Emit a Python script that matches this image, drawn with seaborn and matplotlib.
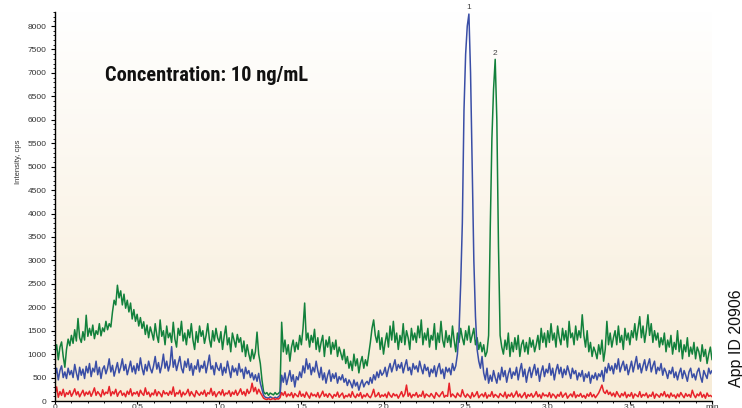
import numpy as np
import pandas as pd
import matplotlib
matplotlib.use("Agg")
import matplotlib.pyplot as plt
from matplotlib.ticker import MultipleLocator, FixedLocator
import seaborn as sns

# ---------------- data (cps, sampled every 0.01 min from 0 to 4.0) ----------------
time_step = 0.01
green_cps = [
    1050, 1200, 880, 1150, 1260, 950, 720, 1100, 1320, 1180,
    1400, 1230, 1520, 1280, 1760, 1350, 1250, 1480, 1300, 1830,
    1380, 1550, 1400, 1620, 1330, 1500, 1420, 1650, 1390, 1560,
    1480, 1700, 1520, 1650, 1580, 1900, 2150, 2050, 2470, 2200,
    2350, 2050, 2280, 1980, 2150, 1900, 2090, 1750, 1950, 1700,
    1850, 1600, 1780, 1550, 1690, 1420, 1620, 1350, 1580, 1450,
    1300, 1650, 1400, 1250, 1730, 1380, 1500, 1200, 1600, 1350,
    1450, 1250, 1680, 1320, 1150, 1550, 1400, 1700, 1280, 1450,
    1200, 1520, 1350, 1650, 1300, 1100, 1480, 1250, 1600, 1380,
    1500, 1230, 1400, 1650, 1320, 1150, 1500, 1280, 1550, 1350,
    1250, 1480, 1100, 1380, 1600, 1200, 1350, 1050, 1450, 1300,
    1150, 1420, 1250, 1350, 1050, 1280, 950, 1200, 1000, 850,
    1100, 900, 1050, 1470, 1000, 800, 450, 200, 150, 180,
    120, 170, 150, 130, 180, 140, 160, 200, 1680, 1050,
    1300, 1000, 1200, 850, 1150, 1300, 1050, 1250, 1100, 1400,
    1200, 1550, 2090, 1300, 1450, 1150, 1400, 1250, 1530, 1100,
    1350, 1050, 1250, 1400, 950, 1300, 1150, 1370, 1000, 1250,
    1100, 1300, 950, 1150, 1020, 880, 1100, 800, 950, 700,
    850, 650, 1000, 750, 900, 600, 820, 950, 700, 880,
    750, 1000, 1250, 1550, 1730, 1400, 1250, 1500, 1100, 1350,
    1000, 1250, 1450, 1150, 1600, 1300, 1700, 1250, 1450, 1100,
    1400, 1250, 1650, 1200, 1500, 1350, 1100, 1550, 1300, 1450,
    1250, 1600, 1350, 1730, 1200, 1450, 1300, 1550, 1150, 1400,
    1300, 1650, 1100, 1450, 1250, 1700, 1300, 1150, 1500, 1250,
    1400, 1150, 1600, 1300, 1050, 1450, 1250, 1550, 1350, 1200,
    1500, 1300, 1600, 1250, 1400, 1550, 1200, 1350, 1100, 1250,
    1050, 1200, 950, 1050, 1400, 3700, 5600, 6650, 7290, 6000,
    3300, 1400, 1150, 1000, 1300, 1100, 1450, 950, 1250, 1050,
    1350, 1100, 1400, 950, 1200, 1300, 1050, 1250, 1000, 1350,
    1150, 1300, 1050, 1200, 1400, 1100, 1550, 1250, 1450, 1150,
    1500, 1250, 1650, 1300, 1450, 1150, 1600, 1350, 1200, 1550,
    1300, 1500, 1150, 1700, 1350, 1450, 1200, 1600, 1300, 1500,
    1350, 1840, 1400, 1150, 1500, 1050, 1250, 950, 1150, 1050,
    900, 1200, 1000, 1300, 850, 1100, 1700, 1200, 1450, 1150,
    1350, 1500, 1200, 1600, 1250, 1400, 1100, 1550, 1300, 1450,
    1200, 1500, 1350, 1650, 1300, 1550, 1800, 1350, 1600, 1250,
    1500, 1840, 1400, 1650, 1250, 1500, 1300, 1450, 1150, 1350,
    1200, 1450, 1050, 1300, 1150, 1400, 1000, 1250, 1100, 1500,
    1050, 1300, 900, 1200, 1050, 1350, 950, 1150, 1000, 1250,
    900, 1150, 1050, 850, 1200, 950, 1100, 800, 1000, 1150,
    880,
]
blue_cps = [
    550, 700, 450, 650, 750, 500, 620, 480, 700, 560,
    650, 500, 780, 600, 450, 720, 550, 680, 480, 740,
    600, 800, 520, 700, 620, 850, 560, 720, 480, 680,
    750, 580, 700, 900, 620, 760, 530, 680, 820, 600,
    720, 900, 650, 780, 560, 700, 850, 620, 750, 580,
    800, 650, 920, 700, 560, 780, 640, 850, 700, 600,
    750, 950, 680, 820, 600, 760, 1000, 700, 850, 640,
    780, 1160, 720, 880, 650, 800, 950, 700, 600, 850,
    720, 900, 650, 800, 550, 750, 680, 880, 620, 760,
    700, 850, 600, 780, 980, 680, 750, 560, 820, 700,
    650, 800, 550, 720, 600, 850, 680, 500, 750, 620,
    700, 550, 800, 620, 680, 480, 720, 580, 650, 500,
    600, 450, 560, 420, 590, 380, 250, 120, 80, 70,
    60, 90, 70, 50, 80, 60, 90, 120, 550, 400,
    600, 350, 500, 650, 420, 560, 300, 520, 450, 620,
    500, 750, 600, 900, 680, 800, 560, 720, 620, 850,
    650, 500, 720, 450, 600, 380, 550, 660, 420, 580,
    480, 600, 380, 520, 450, 560, 400, 480, 330, 450,
    380, 280, 450, 320, 400, 230, 360, 450, 300, 380,
    420, 350, 500, 380, 560, 450, 620, 500, 660, 550,
    600, 720, 520, 680, 800, 620, 750, 880, 650, 780,
    700, 820, 600, 750, 880, 650, 720, 560, 800, 680,
    750, 620, 850, 700, 580, 780, 650, 720, 520, 680,
    600, 750, 520, 700, 800, 580, 680, 480, 720, 620,
    700, 560, 800, 650, 750, 1000, 1500, 2500, 3800, 6200,
    7400, 8000, 8256, 7000, 5000, 3000, 1800, 1100, 850, 700,
    950, 600, 450, 700, 380, 550, 420, 650, 500, 380,
    600, 450, 720, 520, 650, 400, 580, 700, 480, 620,
    550, 720, 450, 650, 800, 520, 680, 400, 600, 720,
    500, 650, 780, 550, 700, 420, 620, 750, 520, 680,
    600, 800, 550, 700, 450, 650, 780, 580, 720, 500,
    680, 560, 750, 620, 480, 700, 580, 650, 450, 600,
    520, 650, 420, 580, 500, 620, 380, 550, 480, 600,
    450, 580, 520, 650, 420, 720, 600, 800, 650, 750,
    580, 800, 680, 900, 620, 750, 850, 650, 780, 560,
    700, 850, 620, 780, 950, 680, 800, 600, 750, 880,
    650, 780, 900, 620, 750, 850, 580, 720, 650, 800,
    550, 700, 620, 480, 650, 580, 720, 500, 620, 450,
    600, 700, 480, 650, 550, 420, 620, 700, 500, 580,
    450, 620, 700, 520, 400, 650, 560, 480, 700, 580,
    650,
]
red_cps = [
    150, 300, 80, 200, 120, 250, 90, 180, 140, 220,
    100, 170, 260, 130, 200, 90, 160, 230, 110, 190,
    140, 210, 100, 180, 280, 120, 200, 150, 90, 240,
    130, 190, 160, 310, 110, 200, 150, 250, 100, 180,
    220, 120, 170, 90, 210, 140, 260, 110, 180, 150,
    200, 100, 230, 160, 120, 280, 140, 190, 90, 170,
    130, 240, 110, 200, 160, 90, 220, 150, 180, 120,
    210, 140, 300, 100, 180, 150, 230, 90, 190, 130,
    170, 250, 110, 200, 140, 90, 220, 160, 120, 190,
    140, 230, 100, 180, 150, 270, 120, 200, 90, 160,
    200, 130, 240, 110, 170, 150, 220, 100, 190, 140,
    230, 120, 180, 260, 140, 200, 110, 250, 160, 210,
    380, 200, 290, 150, 250, 180, 120, 60, 40, 30,
    50, 30, 40, 60, 30, 50, 40, 70, 180, 120,
    200, 90, 150, 110, 180, 70, 160, 120, 90, 210,
    100, 150, 80, 190, 120, 60, 170, 110, 140, 90,
    180, 70, 130, 210, 100, 150, 80, 160, 120, 60,
    140, 100, 190, 80, 130, 170, 60, 120, 90, 150,
    80, 200, 110, 70, 150, 100, 180, 60, 130, 90,
    160, 100, 70, 140, 250, 90, 120, 180, 80, 130,
    100, 150, 70, 190, 120, 80, 160, 110, 140, 60,
    130, 200, 90, 150, 340, 100, 170, 70, 140, 110,
    180, 80, 130, 100, 210, 70, 150, 120, 90, 160,
    110, 60, 180, 130, 90, 150, 200, 80, 120, 100,
    380, 90, 150, 110, 70, 170, 120, 90, 240, 130,
    80, 150, 110, 60, 180, 90, 130, 200, 70, 120,
    150, 90, 180, 60, 130, 100, 200, 80, 140, 110,
    70, 160, 120, 90, 190, 60, 140, 100, 170, 80,
    130, 210, 90, 150, 70, 120, 180, 60, 140, 100,
    160, 80, 120, 200, 90, 140, 60, 170, 110, 130,
    90, 180, 70, 150, 120, 60, 140, 100, 190, 80,
    130, 170, 60, 110, 150, 90, 200, 70, 130, 100,
    160, 80, 120, 60, 150, 100, 180, 90, 140, 70,
    120, 170, 250, 340, 200, 160, 230, 140, 190, 110,
    170, 90, 200, 130, 80, 160, 110, 190, 70, 140,
    100, 180, 60, 150, 120, 90, 200, 80, 140, 110,
    170, 70, 130, 100, 190, 60, 150, 120, 80, 160,
    110, 200, 90, 140, 70, 170, 100, 130, 60, 150,
    90, 180, 120, 70, 160, 100, 140, 80, 230, 130,
    70, 150, 110, 190, 80, 140, 60, 170, 100, 120,
    90,
]
x_tick_values = [0, 0.5, 1.0, 1.5, 2.0, 2.5, 3.0, 3.5, 4.0]
x_tick_labels = ["0", "0.5", "1.0", "1.5", "2.0", "2.5", "3.0", "3.5", "min"]
y_tick_values = list(range(0, 8001, 500))
peak_labels = ["1", "2"]
title_text = "Concentration: 10 ng/mL"
side_text = "App ID 20906"
y_label = "Intensity, cps"

# ---------------- build table ----------------
n = len(green_cps)
times = np.round(np.arange(n) * time_step, 2)
df = pd.concat([
    pd.DataFrame({"time": times, "cps": green_cps, "trace": "green"}),
    pd.DataFrame({"time": times, "cps": blue_cps, "trace": "blue"}),
    pd.DataFrame({"time": times, "cps": red_cps, "trace": "red"}),
], ignore_index=True)

sns.set_style("ticks")
plt.rcParams["font.family"] = ["Liberation Sans", "DejaVu Sans"]

W, H = 742, 408
fig = plt.figure(figsize=(W / 100, H / 100), dpi=100)
ax = fig.add_axes([55 / W, 1 - 401 / H, (712 - 55) / W, (401 - 12) / H])

# gradient background (white at top -> beige at bottom)
top_c = np.array([255, 255, 255]) / 255
bot_c = np.array([247, 236, 215]) / 255
g = np.linspace(0, 1, 256)[:, None]
grad = top_c[None, :] * (1 - g) + bot_c[None, :] * g
ax.imshow(grad[:, None, :], extent=[0, 4.0, 0, 8300], aspect="auto", zorder=0,
          origin="upper")

palette = {"green": "#12813c", "blue": "#3a4ea6", "red": "#e8232a"}
for name in ["green", "blue", "red"]:
    sub = df[df.trace == name]
    sns.lineplot(data=sub, x="time", y="cps", ax=ax, color=palette[name],
                 lw=1.1, zorder=2, estimator=None, sort=False)

ax.set_xlim(0, 4.0)
ax.set_ylim(0, 8300)
ax.set_xlabel("")
ax.set_ylabel("")

for s in ["top", "right"]:
    ax.spines[s].set_visible(False)
for s in ["left", "bottom"]:
    ax.spines[s].set_color("black")
    ax.spines[s].set_linewidth(1.0)

ax.xaxis.set_major_locator(FixedLocator(x_tick_values))
ax.set_xticklabels(x_tick_labels)
ax.xaxis.set_minor_locator(MultipleLocator(0.1))
ax.yaxis.set_major_locator(FixedLocator(y_tick_values))
ax.set_yticklabels([str(v) for v in y_tick_values])
ax.yaxis.set_minor_locator(MultipleLocator(100))
ax.tick_params(axis="both", which="major", length=3, width=0.8, color="black",
               labelsize=6, labelcolor="#333333", pad=2)
ax.tick_params(axis="both", which="minor", length=1.5, width=0.6, color="black")
ax.tick_params(axis="y", which="major", pad=3)
ax.tick_params(axis="x", which="major", length=2.5, pad=0)

fig.text(18 / W, 1 - 162 / H, y_label, rotation=90, ha="center", va="center",
         fontsize=5.5, color="#333333")

# peak labels
for lab, series in zip(peak_labels, [blue_cps, green_cps]):
    i = int(np.argmax(series))
    ax.annotate(lab, xy=(times[i], series[i]), xytext=(0, 2),
                textcoords="offset points", ha="center", va="bottom",
                fontsize=6, color="#444444", annotation_clip=False)

fig.text(105 / W, 1 - 81 / H, title_text, ha="left", va="baseline",
         fontsize=14.7, fontweight="bold",
         family=["Roboto Condensed", "Liberation Sans", "DejaVu Sans"],
         color="#111111")

fig.text(736 / W, 1 - 338 / H, side_text, rotation=90, ha="center", va="center",
         fontsize=11.5, color="#111111")

fig.savefig("out.png", dpi=100)
